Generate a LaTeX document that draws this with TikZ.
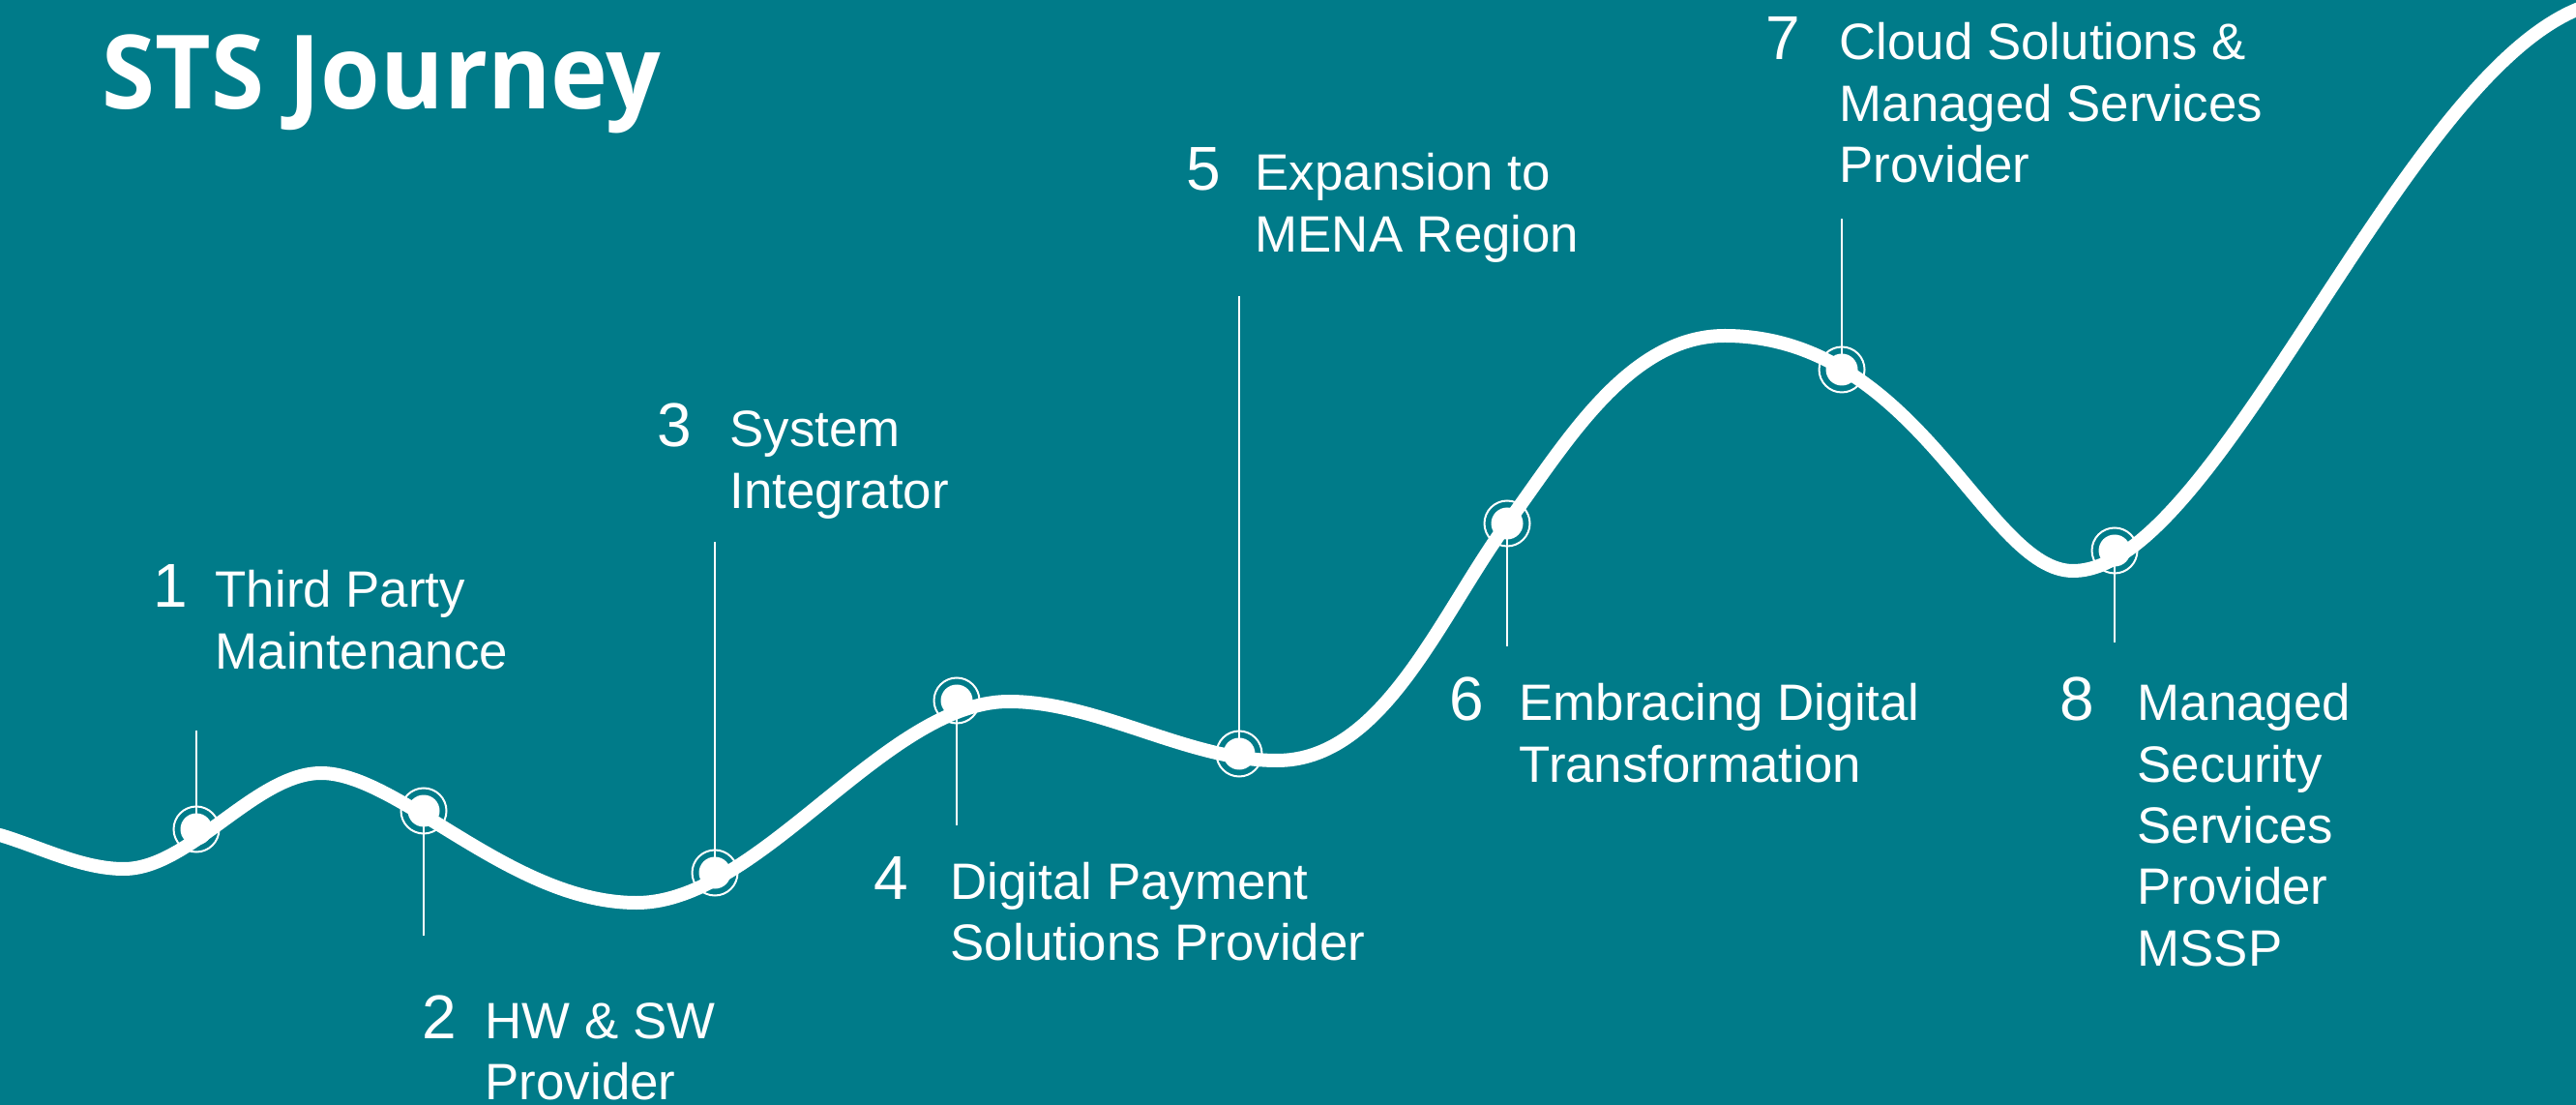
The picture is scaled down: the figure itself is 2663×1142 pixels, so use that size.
\documentclass[tikz,border=0pt]{standalone}
\usepackage{fontspec}
\setmainfont{Liberation Sans}
\newfontfamily\titlefont{Open Sans}
\definecolor{bgteal}{RGB}{0,123,137}
\begin{document}
\begin{tikzpicture}[x=0.3pt,y=-0.3pt,
  curve/.style={white, line width=4.2pt, line cap=round},
  dotmark/.style={circle, fill=white, minimum size=9.9pt, inner sep=0pt},
  ringmark/.style={circle, draw=white, line width=0.6pt, minimum size=14.1pt, inner sep=0pt},
  leader/.style={white, line width=0.4pt},
  num/.style={anchor=base west, inner sep=0pt, text=white, font=\fontsize{19.2}{23}\selectfont},
  lbl/.style={anchor=base west, inner sep=0pt, text=white, font=\fontsize{15.85}{19.0}\selectfont},
]
\fill[bgteal] (0,0) rectangle (2663,1142);
\useasboundingbox (0,0) rectangle (2663,1142);
\node[anchor=base west, inner sep=0pt, text=white, font=\titlefont\bfseries\fontsize{31.8}{36}\selectfont] (title) at (105,113) {\scalebox{0.94}[1]{STS Journey}};

\draw[curve] (0,863) .. controls (43,876) and (85,898) .. (128,898)
  .. controls (196,898) and (264,799) .. (332,799)
  .. controls (412,799) and (528,933) .. (658,933)
  .. controls (786,933) and (915,725) .. (1043,725)
  .. controls (1135,725) and (1228,786) .. (1320,786)
  .. controls (1430,786) and (1488,637) .. (1558,541)
  .. controls (1618,459) and (1683,347) .. (1783,347)
  .. controls (1983,347) and (2053,590) .. (2143,590)
  .. controls (2303,590) and (2510,0) .. (2710,0);

% markers
\coordinate (c1) at (203,857);
\coordinate (c2) at (438,838);
\coordinate (c3) at (739,902);
\coordinate (c4) at (989,724);
\coordinate (c5) at (1281,779);
\coordinate (c6) at (1558,541);
\coordinate (c7) at (1904,382);
\coordinate (c8) at (2186,569);

\coordinate (l1) at (203,755);
\coordinate (l2) at (438,967);
\coordinate (l3) at (739,560);
\coordinate (l4) at (989,853);
\coordinate (l5) at (1281,306);
\coordinate (l6) at (1558,668);
\coordinate (l7) at (1904,226);
\coordinate (l8) at (2186,664);

\foreach \i in {1,...,8}{
  \draw[leader] (l\i) -- (c\i);
  \node[ringmark] (r\i) at (c\i) {};
  \node[dotmark] (p\i) at (c\i) {};
}

% labels
\node[num] (n1) at (158,628) {1};
\node[lbl] (t1) at (222,628) {\begin{tabular}[t]{@{}l@{}}Third Party\\Maintenance\end{tabular}};
\node[num] (n2) at (436,1073) {2};
\node[lbl] (t2) at (501,1073) {\begin{tabular}[t]{@{}l@{}}HW \& SW\\Provider\end{tabular}};
\node[num] (n3) at (679,462) {3};
\node[lbl] (t3) at (754,462) {\begin{tabular}[t]{@{}l@{}}System\\Integrator\end{tabular}};
\node[num] (n4) at (903,929) {4};
\node[lbl] (t4) at (982,929) {\begin{tabular}[t]{@{}l@{}}Digital Payment\\Solutions Provider\end{tabular}};
\node[num] (n5) at (1226,197) {5};
\node[lbl] (t5) at (1297,197) {\begin{tabular}[t]{@{}l@{}}Expansion to\\MENA Region\end{tabular}};
\node[num] (n6) at (1498,745) {6};
\node[lbl] (t6) at (1570,745) {\begin{tabular}[t]{@{}l@{}}Embracing Digital\\Transformation\end{tabular}};
\node[num] (n7) at (1825,62) {7};
\node[lbl] (t7) at (1901,62) {\begin{tabular}[t]{@{}l@{}}Cloud Solutions \&\\Managed Services\\Provider\end{tabular}};
\node[num] (n8) at (2129,745) {8};
\node[lbl] (t8) at (2209,745) {\begin{tabular}[t]{@{}l@{}}Managed\\Security\\Services\\Provider\\MSSP\end{tabular}};
\end{tikzpicture}
\end{document}
